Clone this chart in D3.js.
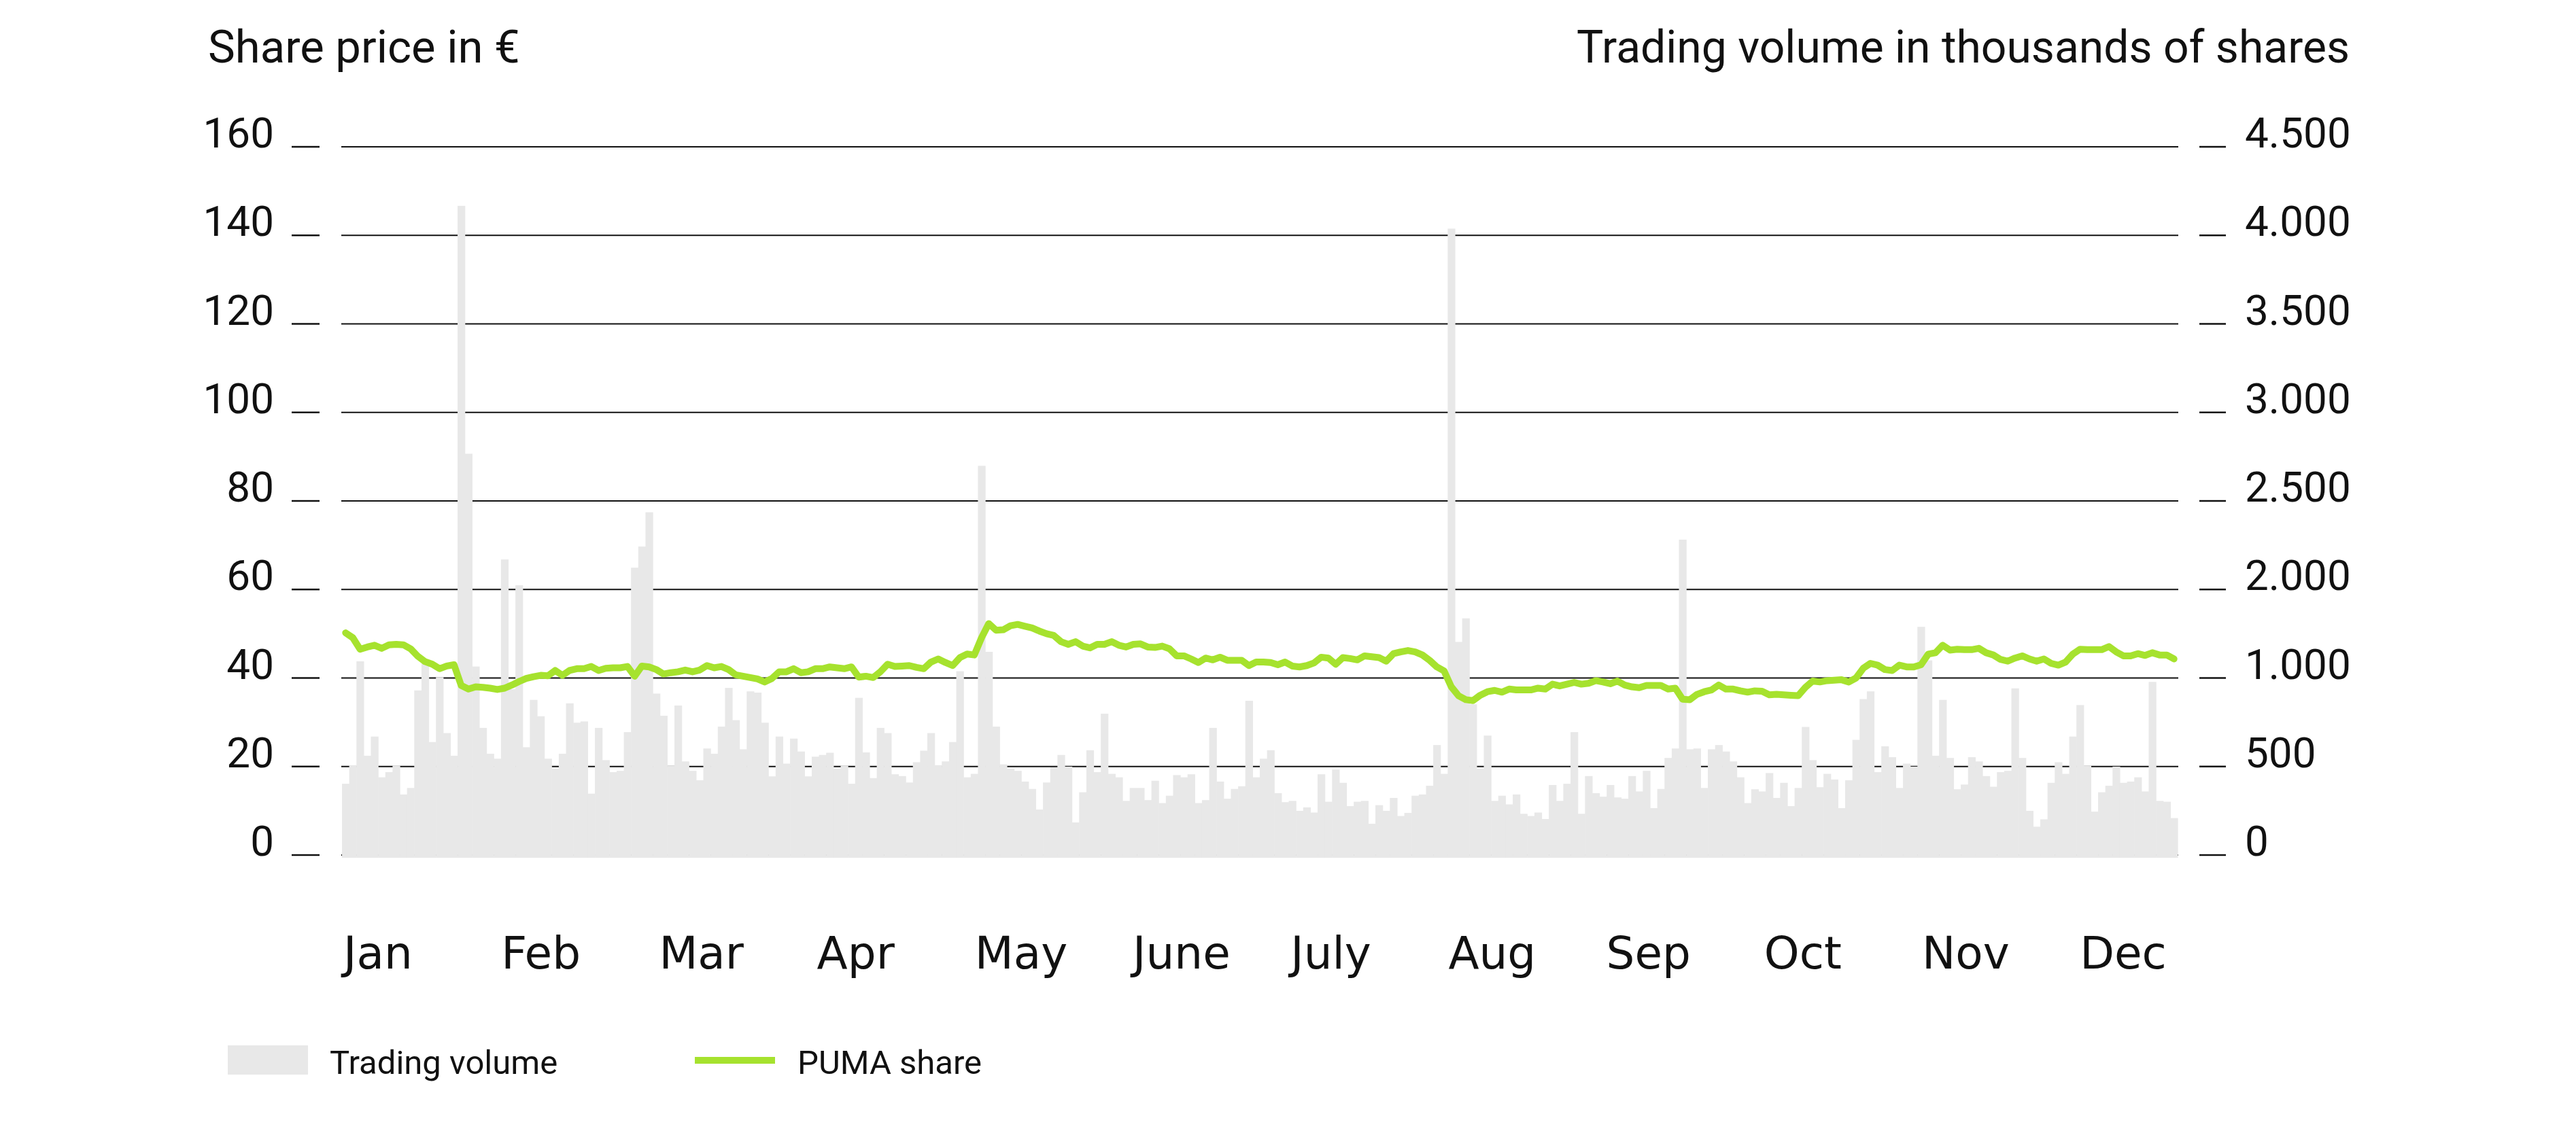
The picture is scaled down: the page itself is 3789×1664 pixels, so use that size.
<!DOCTYPE html>
<html>
<head>
<meta charset="utf-8">
<script src="https://cdn.jsdelivr.net/npm/d3@7"></script>
<style>
  html, body { margin: 0; padding: 0; background: #fff; }
  svg { display: block; }
</style>
</head>
<body>
<script>
// ---- data ----
const months = ["Jan","Feb","Mar","Apr","May","June","July","Aug","Sep","Oct","Nov","Dec"];
const priceTicks = [0,20,40,60,80,100,120,140,160];
// right-hand labels exactly as printed in the reference (one per gridline)
const volumeTickLabels = [0,500,1000,2000,2500,3000,3500,4000,4500];

// daily trading volume in thousands of shares
const volume = [
 453,571,1231,631,753,494,527,568,385,426,1046,1218,718,1130,775,631,4125,2550,1198,808,644,612,1878,1054,1714,685,986,882,612,549,644,964,841,849,390,808,603,527,535,781,1826,1960,2178,
 1026,885,568,950,595,535,475,677,644,816,1062,857,672,1040,1032,841,500,753,581,740,658,500,625,636,650,549,568,453,999,652,489,808,775,513,502,461,590,663,775,571,595,718,1168,
 494,516,2473,1291,816,576,549,535,467,420,289,461,557,636,562,207,399,666,527,898,516,494,344,426,426,349,472,330,377,508,494,513,330,349,808,467,358,420,437,980,494,612,666,
 393,336,344,281,303,270,513,339,543,459,311,339,344,199,317,281,363,248,268,377,385,440,699,516,3980,1354,1504,958,549,759,344,377,322,385,262,248,270,229,445,344,453,781,
 262,502,393,371,445,366,358,502,404,535,298,420,617,677,2004,672,677,426,672,699,658,595,494,330,418,404,521,363,459,311,426,814,603,431,516,480,298,475,732,991,1040,527,691,
 622,426,581,562,1450,1237,631,986,617,418,448,622,595,502,434,527,535,1059,617,281,180,227,459,590,516,753,953,568,276,399,440,562,459,467,494,404,1100,344,339,235
];

// daily PUMA share price in EUR
const price = [
 50.2,49.1,46.5,47.0,47.4,46.7,47.5,47.6,47.5,46.6,44.9,43.7,43.1,42.1,42.7,43.0,38.3,37.5,38.0,37.9,37.7,37.4,37.7,38.4,39.2,39.9,40.3,40.6,40.5,41.7,40.6,41.7,42.1,42.1,42.6,41.7,42.2,42.3,42.3,42.6,40.4,42.7,42.5,
 41.9,40.9,41.2,41.4,41.8,41.4,41.8,42.8,42.3,42.6,41.9,40.7,40.4,40.1,39.8,39.1,39.9,41.4,41.4,42.1,41.2,41.4,42.1,42.1,42.5,42.3,42.1,42.5,40.2,40.4,40.1,41.4,43.1,42.6,42.7,42.8,42.4,42.1,43.6,44.3,43.5,42.8,44.6,
 45.4,45.2,49.1,52.3,50.8,50.9,51.8,52.1,51.7,51.3,50.6,50.0,49.6,48.2,47.6,48.2,47.2,46.8,47.6,47.6,48.2,47.4,47.0,47.6,47.7,47.0,46.9,47.2,46.6,45.0,45.0,44.3,43.5,44.5,44.1,44.7,44.0,44.0,44.0,42.8,43.6,43.6,43.5,
 43.0,43.6,42.7,42.5,42.8,43.4,44.7,44.5,43.1,44.6,44.4,44.1,45.0,44.8,44.6,43.8,45.5,45.9,46.2,45.9,45.2,44.0,42.5,41.6,38.0,36.0,35.1,34.9,36.1,36.9,37.2,36.8,37.5,37.3,37.3,37.3,37.7,37.5,38.6,38.2,38.6,39.0,
 38.6,38.8,39.4,39.1,38.7,39.3,38.4,38.0,37.8,38.3,38.3,38.3,37.5,37.7,35.2,35.1,36.3,36.9,37.3,38.4,37.5,37.5,37.1,36.8,37.1,37.0,36.2,36.3,36.2,36.1,36.0,37.9,39.3,39.1,39.4,39.5,39.6,39.1,40.0,42.2,43.3,42.9,41.9,
 41.7,42.9,42.5,42.5,43.0,45.4,45.7,47.4,46.3,46.5,46.4,46.4,46.7,45.7,45.2,44.2,43.8,44.5,45.0,44.3,43.8,44.3,43.3,42.9,43.6,45.4,46.5,46.4,46.4,46.4,47.1,45.9,45.0,45.0,45.5,45.1,45.7,45.2,45.2,44.3
];

const titles = { left: "Share price in €", right: "Trading volume in thousands of shares" };
const legendLabels = ["Trading volume", "PUMA share"];

// ---- layout ----
const W = 3789, H = 1664;
const plotL = 502, plotR = 3204, yTop = 216, yBot = 1258;
const GREEN = "#a6e22e", BAR = "#e8e8e8", INK = "#111";
const numFont = "Roboto, 'Liberation Sans', sans-serif";

const svg = d3.select("body").append("svg").attr("width", W).attr("height", H)
  .attr("viewBox", `0 0 ${W} ${H}`);
svg.append("rect").attr("width", W).attr("height", H).attr("fill", "#fff");

const days = d3.range(volume.length);
const x = d3.scaleBand().domain(days).range([503, 3203]).padding(0);
const yP = d3.scaleLinear().domain([0, 160]).range([yBot, yTop]);
const yV = d3.scaleLinear().domain([0, 4500]).range([yBot, yTop]);
const xm = d3.scalePoint().domain(months).range([505, 505 + 11 * 232.2]);

const fmtV = d => d3.format(",")(d).replace(/,/g, ".");

// gridlines
svg.append("g").selectAll("line").data(priceTicks).join("line")
  .attr("x1", plotL).attr("x2", plotR)
  .attr("y1", d => yP(d)).attr("y2", d => yP(d))
  .attr("stroke", INK).attr("stroke-width", 2);

// left axis ticks + labels
const gl = svg.append("g");
gl.selectAll("line").data(priceTicks).join("line")
  .attr("x1", 429).attr("x2", 470)
  .attr("y1", d => yP(d)).attr("y2", d => yP(d))
  .attr("stroke", INK).attr("stroke-width", 2.5);
gl.selectAll("text").data(priceTicks).join("text")
  .attr("x", 403).attr("y", d => yP(d) + 1)
  .attr("text-anchor", "end")
  .attr("font-family", numFont).attr("font-size", 62).attr("fill", INK)
  .text(d => d);

// right axis ticks + labels (one label per gridline, as printed)
const gr = svg.append("g");
gr.selectAll("line").data(priceTicks).join("line")
  .attr("x1", 3235).attr("x2", 3274)
  .attr("y1", d => yP(d)).attr("y2", d => yP(d))
  .attr("stroke", INK).attr("stroke-width", 2.5);
gr.selectAll("text").data(volumeTickLabels).join("text")
  .attr("x", 3302).attr("y", (d, i) => yP(priceTicks[i]) + 1)
  .attr("font-family", numFont).attr("font-size", 62).attr("fill", INK)
  .text(d => fmtV(d));

// volume bars
svg.append("g").selectAll("rect").data(days).join("rect")
  .attr("x", d => x(d))
  .attr("width", x.bandwidth() + 0.6)
  .attr("y", d => yV(volume[d]))
  .attr("height", d => yBot + 4 - yV(volume[d]))
  .attr("fill", BAR);

// price line
const line = d3.line()
  .x(d => x(d) + x.bandwidth() / 2)
  .y(d => yP(price[d]))
  .curve(d3.curveLinear);
svg.append("path").datum(days)
  .attr("d", line)
  .attr("fill", "none").attr("stroke", GREEN).attr("stroke-width", 10)
  .attr("stroke-linejoin", "round").attr("stroke-linecap", "round");

// month labels
svg.append("g").selectAll("text").data(months).join("text")
  .attr("x", d => xm(d)).attr("y", 1425)
  .attr("font-family", "'DejaVu Sans', Verdana, sans-serif").attr("font-size", 66)
  .attr("fill", INK)
  .text(d => d);

// titles
svg.append("text").attr("x", 306).attr("y", 92)
  .attr("font-family", numFont).attr("font-size", 67).attr("fill", INK)
  .text(titles.left);
svg.append("text").attr("x", 3456).attr("y", 92).attr("text-anchor", "end")
  .attr("font-family", numFont).attr("font-size", 66).attr("fill", INK)
  .text(titles.right);

// legend
const lg = svg.append("g");
lg.append("rect").attr("x", 335).attr("y", 1538).attr("width", 118).attr("height", 43).attr("fill", BAR);
lg.append("text").attr("x", 485).attr("y", 1580)
  .attr("font-family", numFont).attr("font-size", 49).attr("fill", INK).text(legendLabels[0]);
lg.append("line").attr("x1", 1022).attr("x2", 1140).attr("y1", 1560).attr("y2", 1560)
  .attr("stroke", GREEN).attr("stroke-width", 10);
lg.append("text").attr("x", 1173).attr("y", 1580)
  .attr("font-family", numFont).attr("font-size", 49).attr("fill", INK).text(legendLabels[1]);
</script>
</body>
</html>
